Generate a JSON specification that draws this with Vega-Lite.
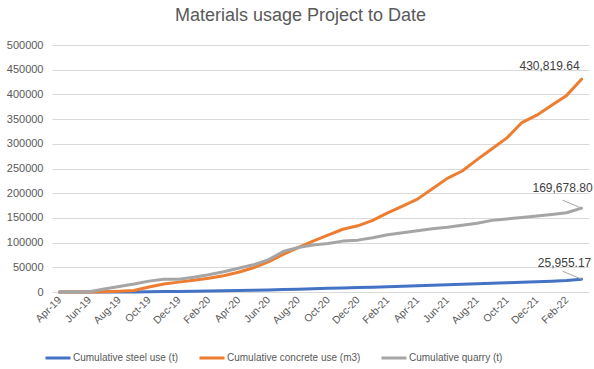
{
  "$schema": "https://vega.github.io/schema/vega-lite/v6.json",
  "autosize": {"type": "none"},
  "width": 537,
  "height": 247,
  "padding": {"left": 52, "top": 45, "right": 5, "bottom": 77},
  "background": "#ffffff",
  "config": {
    "font": "Liberation Sans",
    "view": {"stroke": null}
  },
  "title": {
    "text": "Materials usage Project to Date",
    "fontSize": 18,
    "fontWeight": "normal",
    "color": "#595959",
    "anchor": "middle",
    "frame": "group",
    "dx": -20,
    "offset": 14
  },
  "data": {
    "values": [
      {"month": "Apr-19", "series": "Cumulative steel use (t)", "value": 0},
      {"month": "May-19", "series": "Cumulative steel use (t)", "value": 0},
      {"month": "Jun-19", "series": "Cumulative steel use (t)", "value": 0},
      {"month": "Jul-19", "series": "Cumulative steel use (t)", "value": 0},
      {"month": "Aug-19", "series": "Cumulative steel use (t)", "value": 0},
      {"month": "Sep-19", "series": "Cumulative steel use (t)", "value": 200},
      {"month": "Oct-19", "series": "Cumulative steel use (t)", "value": 500},
      {"month": "Nov-19", "series": "Cumulative steel use (t)", "value": 800},
      {"month": "Dec-19", "series": "Cumulative steel use (t)", "value": 1200},
      {"month": "Jan-20", "series": "Cumulative steel use (t)", "value": 1500},
      {"month": "Feb-20", "series": "Cumulative steel use (t)", "value": 2000},
      {"month": "Mar-20", "series": "Cumulative steel use (t)", "value": 2500},
      {"month": "Apr-20", "series": "Cumulative steel use (t)", "value": 3000},
      {"month": "May-20", "series": "Cumulative steel use (t)", "value": 3500},
      {"month": "Jun-20", "series": "Cumulative steel use (t)", "value": 4200},
      {"month": "Jul-20", "series": "Cumulative steel use (t)", "value": 5000},
      {"month": "Aug-20", "series": "Cumulative steel use (t)", "value": 5800},
      {"month": "Sep-20", "series": "Cumulative steel use (t)", "value": 6600},
      {"month": "Oct-20", "series": "Cumulative steel use (t)", "value": 7400},
      {"month": "Nov-20", "series": "Cumulative steel use (t)", "value": 8200},
      {"month": "Dec-20", "series": "Cumulative steel use (t)", "value": 9000},
      {"month": "Jan-21", "series": "Cumulative steel use (t)", "value": 9800},
      {"month": "Feb-21", "series": "Cumulative steel use (t)", "value": 10600},
      {"month": "Mar-21", "series": "Cumulative steel use (t)", "value": 11500},
      {"month": "Apr-21", "series": "Cumulative steel use (t)", "value": 12500},
      {"month": "May-21", "series": "Cumulative steel use (t)", "value": 13500},
      {"month": "Jun-21", "series": "Cumulative steel use (t)", "value": 14500},
      {"month": "Jul-21", "series": "Cumulative steel use (t)", "value": 15500},
      {"month": "Aug-21", "series": "Cumulative steel use (t)", "value": 16500},
      {"month": "Sep-21", "series": "Cumulative steel use (t)", "value": 17500},
      {"month": "Oct-21", "series": "Cumulative steel use (t)", "value": 18500},
      {"month": "Nov-21", "series": "Cumulative steel use (t)", "value": 19500},
      {"month": "Dec-21", "series": "Cumulative steel use (t)", "value": 20800},
      {"month": "Jan-22", "series": "Cumulative steel use (t)", "value": 22000},
      {"month": "Feb-22", "series": "Cumulative steel use (t)", "value": 23500},
      {"month": "Mar-22", "series": "Cumulative steel use (t)", "value": 25955.17},
      {"month": "Apr-19", "series": "Cumulative concrete use (m3)", "value": 0},
      {"month": "May-19", "series": "Cumulative concrete use (m3)", "value": 0},
      {"month": "Jun-19", "series": "Cumulative concrete use (m3)", "value": 0},
      {"month": "Jul-19", "series": "Cumulative concrete use (m3)", "value": 500},
      {"month": "Aug-19", "series": "Cumulative concrete use (m3)", "value": 1500},
      {"month": "Sep-19", "series": "Cumulative concrete use (m3)", "value": 3000},
      {"month": "Oct-19", "series": "Cumulative concrete use (m3)", "value": 10000},
      {"month": "Nov-19", "series": "Cumulative concrete use (m3)", "value": 16000},
      {"month": "Dec-19", "series": "Cumulative concrete use (m3)", "value": 20000},
      {"month": "Jan-20", "series": "Cumulative concrete use (m3)", "value": 24000},
      {"month": "Feb-20", "series": "Cumulative concrete use (m3)", "value": 28000},
      {"month": "Mar-20", "series": "Cumulative concrete use (m3)", "value": 33000},
      {"month": "Apr-20", "series": "Cumulative concrete use (m3)", "value": 40000},
      {"month": "May-20", "series": "Cumulative concrete use (m3)", "value": 49000},
      {"month": "Jun-20", "series": "Cumulative concrete use (m3)", "value": 61000},
      {"month": "Jul-20", "series": "Cumulative concrete use (m3)", "value": 76000},
      {"month": "Aug-20", "series": "Cumulative concrete use (m3)", "value": 90000},
      {"month": "Sep-20", "series": "Cumulative concrete use (m3)", "value": 103000},
      {"month": "Oct-20", "series": "Cumulative concrete use (m3)", "value": 115000},
      {"month": "Nov-20", "series": "Cumulative concrete use (m3)", "value": 127000},
      {"month": "Dec-20", "series": "Cumulative concrete use (m3)", "value": 134000},
      {"month": "Jan-21", "series": "Cumulative concrete use (m3)", "value": 145000},
      {"month": "Feb-21", "series": "Cumulative concrete use (m3)", "value": 160000},
      {"month": "Mar-21", "series": "Cumulative concrete use (m3)", "value": 174000},
      {"month": "Apr-21", "series": "Cumulative concrete use (m3)", "value": 188000},
      {"month": "May-21", "series": "Cumulative concrete use (m3)", "value": 209000},
      {"month": "Jun-21", "series": "Cumulative concrete use (m3)", "value": 230000},
      {"month": "Jul-21", "series": "Cumulative concrete use (m3)", "value": 245000},
      {"month": "Aug-21", "series": "Cumulative concrete use (m3)", "value": 268000},
      {"month": "Sep-21", "series": "Cumulative concrete use (m3)", "value": 290000},
      {"month": "Oct-21", "series": "Cumulative concrete use (m3)", "value": 312000},
      {"month": "Nov-21", "series": "Cumulative concrete use (m3)", "value": 343000},
      {"month": "Dec-21", "series": "Cumulative concrete use (m3)", "value": 358000},
      {"month": "Jan-22", "series": "Cumulative concrete use (m3)", "value": 378000},
      {"month": "Feb-22", "series": "Cumulative concrete use (m3)", "value": 398000},
      {"month": "Mar-22", "series": "Cumulative concrete use (m3)", "value": 430819.64},
      {"month": "Apr-19", "series": "Cumulative quarry (t)", "value": 0},
      {"month": "May-19", "series": "Cumulative quarry (t)", "value": 0},
      {"month": "Jun-19", "series": "Cumulative quarry (t)", "value": 500},
      {"month": "Jul-19", "series": "Cumulative quarry (t)", "value": 6000},
      {"month": "Aug-19", "series": "Cumulative quarry (t)", "value": 11000},
      {"month": "Sep-19", "series": "Cumulative quarry (t)", "value": 16000},
      {"month": "Oct-19", "series": "Cumulative quarry (t)", "value": 22000},
      {"month": "Nov-19", "series": "Cumulative quarry (t)", "value": 26000},
      {"month": "Dec-19", "series": "Cumulative quarry (t)", "value": 26000},
      {"month": "Jan-20", "series": "Cumulative quarry (t)", "value": 30000},
      {"month": "Feb-20", "series": "Cumulative quarry (t)", "value": 35000},
      {"month": "Mar-20", "series": "Cumulative quarry (t)", "value": 41000},
      {"month": "Apr-20", "series": "Cumulative quarry (t)", "value": 48000},
      {"month": "May-20", "series": "Cumulative quarry (t)", "value": 55000},
      {"month": "Jun-20", "series": "Cumulative quarry (t)", "value": 65000},
      {"month": "Jul-20", "series": "Cumulative quarry (t)", "value": 82000},
      {"month": "Aug-20", "series": "Cumulative quarry (t)", "value": 90000},
      {"month": "Sep-20", "series": "Cumulative quarry (t)", "value": 95000},
      {"month": "Oct-20", "series": "Cumulative quarry (t)", "value": 98000},
      {"month": "Nov-20", "series": "Cumulative quarry (t)", "value": 103000},
      {"month": "Dec-20", "series": "Cumulative quarry (t)", "value": 105000},
      {"month": "Jan-21", "series": "Cumulative quarry (t)", "value": 110000},
      {"month": "Feb-21", "series": "Cumulative quarry (t)", "value": 116000},
      {"month": "Mar-21", "series": "Cumulative quarry (t)", "value": 120000},
      {"month": "Apr-21", "series": "Cumulative quarry (t)", "value": 124000},
      {"month": "May-21", "series": "Cumulative quarry (t)", "value": 128000},
      {"month": "Jun-21", "series": "Cumulative quarry (t)", "value": 131000},
      {"month": "Jul-21", "series": "Cumulative quarry (t)", "value": 135000},
      {"month": "Aug-21", "series": "Cumulative quarry (t)", "value": 139000},
      {"month": "Sep-21", "series": "Cumulative quarry (t)", "value": 145000},
      {"month": "Oct-21", "series": "Cumulative quarry (t)", "value": 148000},
      {"month": "Nov-21", "series": "Cumulative quarry (t)", "value": 151000},
      {"month": "Dec-21", "series": "Cumulative quarry (t)", "value": 154000},
      {"month": "Jan-22", "series": "Cumulative quarry (t)", "value": 157000},
      {"month": "Feb-22", "series": "Cumulative quarry (t)", "value": 160500},
      {"month": "Mar-22", "series": "Cumulative quarry (t)", "value": 169678.80}
    ]
  },
  "encoding": {
    "x": {
      "field": "month",
      "type": "nominal",
      "sort": null,
      "scale": {"type": "point", "padding": 0.5},
      "axis": {
        "title": null,
        "values": ["Apr-19","Jun-19","Aug-19","Oct-19","Dec-19","Feb-20","Apr-20","Jun-20","Aug-20","Oct-20","Dec-20","Feb-21","Apr-21","Jun-21","Aug-21","Oct-21","Dec-21","Feb-22"],
        "labelAngle": -45,
        "labelAlign": "right",
        "labelBaseline": "middle",
        "labelFontSize": 10.5,
        "labelColor": "#595959",
        "labelPadding": 6,
        "ticks": false,
        "domain": false,
        "grid": false
      }
    },
    "y": {
      "field": "value",
      "type": "quantitative",
      "scale": {"domain": [0, 500000], "nice": false},
      "axis": {
        "title": null,
        "values": [0,50000,100000,150000,200000,250000,300000,350000,400000,450000,500000],
        "format": "d",
        "labelFontSize": 11,
        "labelColor": "#595959",
        "labelPadding": 9,
        "ticks": false,
        "domain": false,
        "gridColor": "#D9D9D9",
        "gridWidth": 1
      }
    }
  },
  "layer": [
    {
      "mark": {"type": "line", "strokeWidth": 3, "strokeCap": "round", "strokeJoin": "round"},
      "encoding": {
        "color": {
          "field": "series",
          "type": "nominal",
          "scale": {
            "domain": ["Cumulative steel use (t)", "Cumulative concrete use (m3)", "Cumulative quarry (t)"],
            "range": ["#4472C4", "#ED7D31", "#A5A5A5"]
          },
          "legend": {
            "title": null,
            "orient": "none",
            "direction": "horizontal",
            "legendX": -8,
            "legendY": 299,
            "symbolType": "stroke",
            "symbolSize": 625,
            "symbolStrokeWidth": 3,
            "labelFontSize": 10,
            "labelColor": "#595959",
            "labelOffset": 1,
            "columnPadding": 14
          }
        }
      }
    },
    {
      "transform": [{"filter": "datum.month === 'Mar-22' && datum.series !== 'Cumulative concrete use (m3)'"}],
      "mark": {"type": "rule", "color": "#A6A6A6", "strokeWidth": 1, "x2Offset": -19, "y2Offset": -8},
      "encoding": {
        "x2": {"field": "month"},
        "y2": {"field": "value"}
      }
    },
    {
      "transform": [{"filter": "datum.month === 'Mar-22' && datum.series === 'Cumulative concrete use (m3)'"}],
      "mark": {"type": "text", "fontSize": 12, "color": "#404040", "dx": -32, "dy": -13},
      "encoding": {"text": {"field": "value", "type": "quantitative", "format": ",.2f"}}
    },
    {
      "transform": [{"filter": "datum.month === 'Mar-22' && datum.series === 'Cumulative quarry (t)'"}],
      "mark": {"type": "text", "fontSize": 12, "color": "#404040", "dx": -19, "dy": -20},
      "encoding": {"text": {"field": "value", "type": "quantitative", "format": ",.2f"}}
    },
    {
      "transform": [{"filter": "datum.month === 'Mar-22' && datum.series === 'Cumulative steel use (t)'"}],
      "mark": {"type": "text", "fontSize": 12, "color": "#404040", "dx": -17, "dy": -16},
      "encoding": {"text": {"field": "value", "type": "quantitative", "format": ",.2f"}}
    }
  ]
}
